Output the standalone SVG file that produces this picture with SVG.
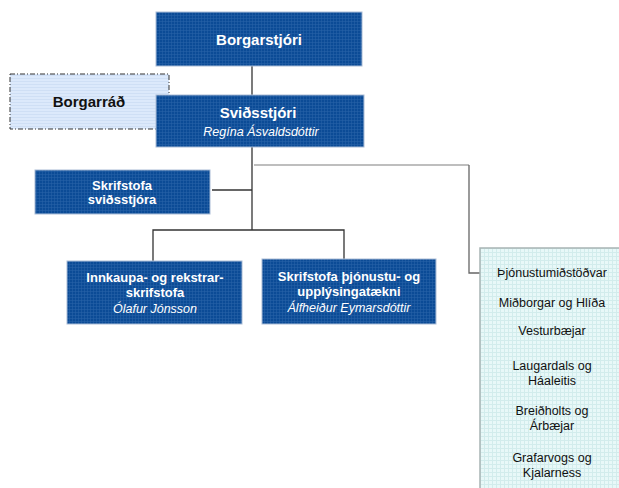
<svg xmlns="http://www.w3.org/2000/svg" width="619" height="488" viewBox="0 0 619 488">
<defs>
<pattern id="gridDark" width="3" height="3" patternUnits="userSpaceOnUse">
<rect width="3" height="3" fill="#0b4b96"/>
<rect width="3" height="1" fill="#2862a8" opacity="0.55"/>
<rect width="1" height="3" fill="#2862a8" opacity="0.55"/>
</pattern>
<pattern id="gridLight" width="4" height="4" patternUnits="userSpaceOnUse">
<rect width="4" height="4" fill="#e8f8f8"/>
<rect width="4" height="1" fill="#d2ecec"/>
<rect width="1" height="4" fill="#d2ecec"/>
</pattern>
<pattern id="gridPale" width="3" height="3" patternUnits="userSpaceOnUse">
<rect width="3" height="3" fill="#dce9fb"/>
<rect width="3" height="1" fill="#cfdff5"/>
</pattern>
</defs>
<style>
.dark{fill:url(#gridDark);stroke:#a9bcd6;stroke-width:1}
.t{font-family:"Liberation Sans",Arial,sans-serif;text-anchor:middle}
.w{fill:#ffffff}
.b{font-weight:bold}
.i{font-style:italic}
.line{fill:none;stroke:#333333;stroke-width:1.3}
</style>
<rect width="619" height="488" fill="#ffffff"/>
<g id="connectors">
<path class="line" d="M252 66 V95"/>
<path class="line" d="M252 147 V230"/>
<path class="line" d="M212 190 H252"/>
<path class="line" d="M153 261 V230 H344 V259"/>
<path fill="none" stroke="#a8a8a8" stroke-width="1.6" d="M254 165 H469"/>
<path fill="none" stroke="#666666" stroke-width="1.3" d="M469 165 V273 H481"/>
</g>
<g id="borgarstjori">
<rect class="dark" x="156" y="12" width="206" height="54"/>
<text class="t w b" x="259" y="45" font-size="15">Borgarstjóri</text>
</g>
<g id="borgarrad">
<rect x="10" y="74" width="159" height="55" fill="url(#gridPale)" stroke="#333333" stroke-width="1" stroke-dasharray="5,2,1,2"/>
<text class="t b" x="89" y="107" font-size="15" fill="#111111">Borgarráð</text>
</g>
<g id="svidsstjori">
<rect class="dark" x="156" y="95" width="208" height="52"/>
<text class="t w b" x="258" y="118" font-size="15">Sviðsstjóri</text>
<text class="t w i" x="261" y="136" font-size="12.5">Regína Ásvaldsdóttir</text>
</g>
<g id="skrifstofa-svidsstjora">
<rect class="dark" x="35" y="170" width="175" height="44"/>
<text class="t w b" x="122" y="190" font-size="13">Skrifstofa</text>
<text class="t w b" x="122" y="204" font-size="13">sviðsstjóra</text>
</g>
<g id="innkaupa">
<rect class="dark" x="67" y="261" width="175" height="63"/>
<text class="t w b" x="155" y="282" font-size="13">Innkaupa- og rekstrar-</text>
<text class="t w b" x="155" y="297" font-size="13">skrifstofa</text>
<text class="t w i" x="155" y="313" font-size="12.5">Ólafur Jónsson</text>
</g>
<g id="thjonusta">
<rect class="dark" x="262" y="259" width="174" height="65"/>
<text class="t w b" x="349" y="281" font-size="13">Skrifstofa þjónustu- og</text>
<text class="t w b" x="349" y="296" font-size="13">upplýsingatækni</text>
<text class="t w i" x="349" y="312" font-size="12.5">Álfheiður Eymarsdóttir</text>
</g>
<g id="thjonustumidstodvar">
<rect x="480" y="248" width="145" height="250" fill="url(#gridLight)" stroke="#a8b4b4" stroke-width="1.5"/>
<g class="t" font-size="12.5" fill="#111111">
<text x="552" y="277">Þjónustumiðstöðvar</text>
<text x="552" y="307">Miðborgar og Hlíða</text>
<text x="552" y="335">Vesturbæjar</text>
<text x="552" y="370">Laugardals og</text>
<text x="552" y="385">Háaleitis</text>
<text x="552" y="415">Breiðholts og</text>
<text x="552" y="430">Árbæjar</text>
<text x="552" y="462">Grafarvogs og</text>
<text x="552" y="477">Kjalarness</text>
</g>
</g>
</svg>
